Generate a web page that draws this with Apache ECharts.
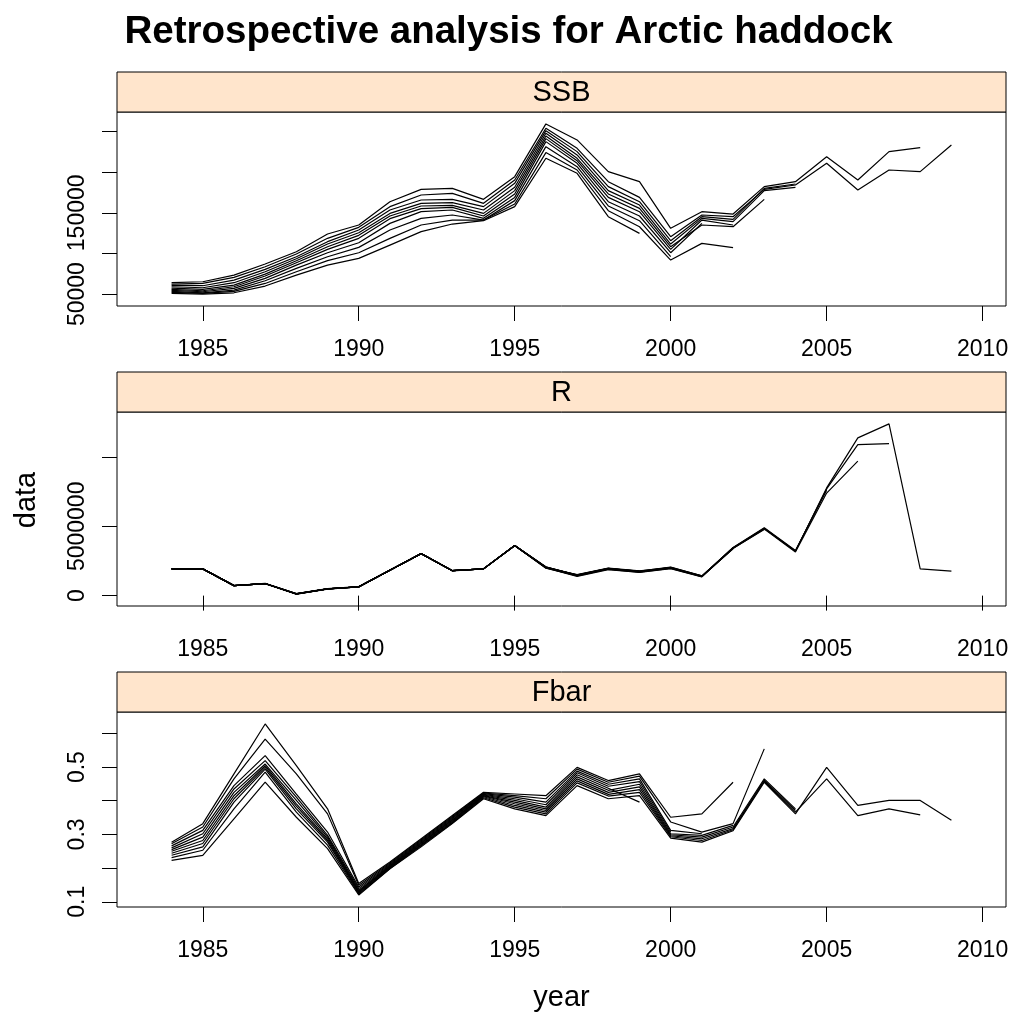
<!DOCTYPE html>
<html>
<head>
<meta charset="utf-8">
<script src="https://cdn.jsdelivr.net/npm/echarts@6/dist/echarts.min.js"></script>
<style>
  html, body { margin: 0; padding: 0; background: #fff; }
  #main { width: 1017px; height: 1027px; }
</style>
</head>
<body>
<div id="main"></div>
<script>
// years of the assessment; each run below starts in 1984 and stops at its own terminal year
const years = [1984, 1985, 1986, 1987, 1988, 1989, 1990, 1991, 1992, 1993, 1994, 1995, 1996,
  1997, 1998, 1999, 2000, 2001, 2002, 2003, 2004, 2005, 2006, 2007, 2008, 2009];
const tickYears = [1985, 1990, 1995, 2000, 2005, 2010];

// SSB (tonnes), one array per retrospective run
const ssbA = [62300, 63100, 70500, 83700, 99300, 118600, 132100, 157600, 171900, 174000, 161700, 190400, 254000,
  229400, 188300, 169000, 120600, 147300, 145200, 178900, 184200, 210900, 178100, 202700, 200700, 233500];
const ssbB = [64000, 65200, 73400, 87000, 102100, 123900, 135000, 163700, 178900, 180100, 166600, 194500, 259400,
  239700, 200700, 188300, 130900, 151400, 148500, 182200, 188300, 219100, 190400, 225300, 230200];
const ssbC = [60700, 60300, 67200, 80400, 96000, 114500, 128800, 153500, 165800, 166600, 157600, 186300, 251100,
  225300, 182200, 163700, 115700, 145200, 142000, 180100, 185500];
const ssbD = [59000, 57800, 64000, 77500, 93500, 111600, 125500, 149300, 161700, 162500, 153500, 181400, 247900,
  221200, 177300, 159600, 111600, 143200, 139100, 177300, 181400];
const ssbE = [57400, 55700, 61100, 74600, 91100, 108300, 122300, 146100, 158400, 159200, 149300, 177300, 244600,
  217100, 173200, 155500, 108300, 135000, 132900, 166600];
const ssbF = [55700, 54100, 59000, 72200, 88600, 105000, 118600, 142800, 155100, 156700, 146100, 173200, 241300,
  214200, 169000, 151400, 105000, 141100, 135000];
const ssbG = [52100, 50800, 53300, 63100, 77500, 91100, 100900, 118600, 135000, 141100, 141100, 160800, 224100,
  202700, 152600, 132900, 91900, 112400, 107100];
const ssbH = [54500, 52900, 57000, 69300, 85700, 100900, 113200, 137000, 151400, 153500, 143200, 169000, 237600,
  210900, 163700, 146100, 100900, 137000];
const ssbI = [53300, 51600, 54900, 66400, 81600, 96000, 107500, 128800, 143200, 147300, 141100, 165000, 231400,
  206800, 158400, 140300, 96000];
const ssbJ = [50800, 50000, 51600, 59900, 73400, 85700, 93900, 110300, 126800, 136200, 140300, 157600, 217100,
  198600, 145200, 124700];

// recruitment (numbers)
const recA = [1930000, 1930000, 720000, 870000, 120000, 480000, 630000, 1830000, 3030000, 1800000, 1930000, 3610000, 2000000,
  1390000, 1880000, 1680000, 1950000, 1350000, 3440000, 4840000, 3200000, 7770000, 11380000, 12390000, 1930000, 1760000];
const recB = [1930000, 1930000, 720000, 870000, 130000, 490000, 640000, 1840000, 3030000, 1800000, 1930000, 3600000, 2020000,
  1420000, 1900000, 1700000, 1970000, 1370000, 3460000, 4860000, 3220000, 7700000, 10900000, 10970000];
const recC = [1930000, 1930000, 720000, 870000, 110000, 470000, 630000, 1830000, 3030000, 1800000, 1930000, 3610000, 1980000,
  1440000, 1920000, 1720000, 2000000, 1380000, 3400000, 4800000, 3150000, 7400000, 9700000];
const recD = [1930000, 1930000, 730000, 880000, 140000, 500000, 650000, 1840000, 3040000, 1810000, 1940000, 3620000, 2040000,
  1460000, 1950000, 1740000, 2020000, 1400000, 3480000, 4900000, 3250000, 7600000];
const recE = [1930000, 1930000, 720000, 870000, 120000, 490000, 640000, 1830000, 3030000, 1800000, 1930000, 3610000, 2060000,
  1480000, 1930000, 1710000, 2040000, 1420000, 3420000, 4780000];
const recF = [1930000, 1930000, 720000, 870000, 130000, 480000, 630000, 1830000, 3020000, 1800000, 1930000, 3600000, 2050000,
  1500000, 1970000, 1730000, 1990000, 1410000, 3450000];
const recG = [1930000, 1930000, 720000, 870000, 110000, 480000, 630000, 1830000, 3030000, 1790000, 1920000, 3610000, 2030000,
  1450000, 1940000, 1760000, 2010000, 1390000, 3380000];
const recH = [1930000, 1930000, 720000, 870000, 140000, 490000, 640000, 1840000, 3040000, 1800000, 1930000, 3620000, 2080000,
  1470000, 1950000, 1770000, 2050000, 1430000];
const recI = [1930000, 1930000, 720000, 870000, 120000, 480000, 630000, 1830000, 3030000, 1800000, 1930000, 3610000, 2010000,
  1520000, 1990000, 1780000, 2030000];
const recJ = [1930000, 1930000, 720000, 870000, 130000, 490000, 640000, 1830000, 3030000, 1810000, 1940000, 3610000, 2040000,
  1490000, 1960000, 1750000];

// mean fishing mortality
const fbarA = [0.223, 0.238, 0.346, 0.455, 0.351, 0.258, 0.120, 0.198, 0.263, 0.332, 0.406, 0.376, 0.356,
  0.445, 0.406, 0.415, 0.289, 0.277, 0.311, 0.455, 0.361, 0.499, 0.386, 0.401, 0.401, 0.342];
const fbarB = [0.231, 0.253, 0.376, 0.485, 0.366, 0.268, 0.123, 0.199, 0.266, 0.334, 0.409, 0.381, 0.361,
  0.453, 0.414, 0.425, 0.293, 0.282, 0.314, 0.458, 0.366, 0.465, 0.356, 0.376, 0.358];
const fbarC = [0.238, 0.263, 0.396, 0.494, 0.376, 0.277, 0.126, 0.201, 0.268, 0.336, 0.412, 0.386, 0.366,
  0.459, 0.419, 0.433, 0.296, 0.287, 0.317, 0.461, 0.371];
const fbarD = [0.244, 0.273, 0.406, 0.499, 0.384, 0.282, 0.129, 0.203, 0.270, 0.339, 0.414, 0.391, 0.371,
  0.465, 0.425, 0.441, 0.299, 0.292, 0.322, 0.465, 0.376];
const fbarE = [0.272, 0.322, 0.465, 0.583, 0.480, 0.361, 0.149, 0.215, 0.284, 0.353, 0.423, 0.415, 0.406,
  0.494, 0.455, 0.473, 0.337, 0.307, 0.332, 0.554];
const fbarF = [0.250, 0.282, 0.415, 0.504, 0.391, 0.287, 0.131, 0.205, 0.273, 0.342, 0.415, 0.396, 0.376,
  0.471, 0.431, 0.449, 0.302, 0.297, 0.327];
const fbarG = [0.277, 0.332, 0.480, 0.628, 0.504, 0.376, 0.154, 0.218, 0.287, 0.356, 0.425, 0.420, 0.415,
  0.499, 0.460, 0.480, 0.351, 0.361, 0.455];
const fbarH = [0.266, 0.312, 0.445, 0.534, 0.420, 0.307, 0.144, 0.212, 0.281, 0.350, 0.421, 0.411, 0.396,
  0.488, 0.449, 0.465, 0.312, 0.302];
const fbarI = [0.260, 0.302, 0.435, 0.519, 0.411, 0.297, 0.139, 0.209, 0.278, 0.347, 0.419, 0.406, 0.388,
  0.483, 0.443, 0.457, 0.307];
const fbarJ = [0.255, 0.292, 0.425, 0.509, 0.401, 0.292, 0.134, 0.207, 0.275, 0.344, 0.417, 0.401, 0.381,
  0.477, 0.437, 0.396];

const ssbTicks = [50000, 100000, 150000, 200000, 250000];
const ssbLabels = [50000, 150000];
const recTicks = [0, 5000000, 10000000];
const recLabels = [0, 5000000];
const fbarTicks = [0.1, 0.2, 0.3, 0.4, 0.5, 0.6];
const fbarLabels = [0.1, 0.3, 0.5];

const FONT = '"Liberation Sans", Arial, sans-serif';
const plotLeft = 117, plotWidth = 889, stripH = 40;

const panels = [
  { name: 'SSB', top: 112, height: 194,
    runs: [ssbA, ssbB, ssbC, ssbD, ssbE, ssbF, ssbG, ssbH, ssbI, ssbJ], ticks: ssbTicks, labels: ssbLabels },
  { name: 'R', top: 412, height: 194,
    runs: [recA, recB, recC, recD, recE, recF, recG, recH, recI, recJ], ticks: recTicks, labels: recLabels },
  { name: 'Fbar', top: 712, height: 195,
    runs: [fbarA, fbarB, fbarC, fbarD, fbarE, fbarF, fbarG, fbarH, fbarI, fbarJ], ticks: fbarTicks, labels: fbarLabels }
];

// lattice pads each axis by 7% of the data range
function padded(lo, hi) {
  const d = (hi - lo) * 0.07;
  return [lo - d, hi + d];
}
const xRange = padded(years[0], years[years.length - 1]);

const grids = [], xAxes = [], yAxes = [], series = [], graphics = [];

panels.forEach((p, i) => {
  const all = p.runs.flat();
  const yRange = padded(Math.min(...all), Math.max(...all));

  grids.push({ left: plotLeft, top: p.top, width: plotWidth, height: p.height,
    show: true, borderColor: '#000', borderWidth: 1, backgroundColor: '#fff' });

  xAxes.push({
    gridIndex: i, type: 'value', min: xRange[0], max: xRange[1],
    axisLine: { show: false },
    splitLine: { show: false },
    axisTick: { show: true, length: 15, customValues: tickYears, lineStyle: { color: '#000', width: 1 } },
    axisLabel: { customValues: tickYears, margin: 32, color: '#000', fontSize: 23, fontFamily: FONT,
      formatter: v => String(v) }
  });

  yAxes.push({
    gridIndex: i, type: 'value', min: yRange[0], max: yRange[1],
    axisLine: { show: false },
    splitLine: { show: false },
    axisTick: { show: true, length: 15, customValues: p.ticks, lineStyle: { color: '#000', width: 1 } },
    axisLabel: { customValues: p.labels, rotate: 90, margin: 28, color: '#000', fontSize: 23, fontFamily: FONT,
      formatter: v => String(v) }
  });

  p.runs.forEach(run => {
    series.push({
      type: 'line', xAxisIndex: i, yAxisIndex: i,
      data: run.map((v, k) => [years[k], v]),
      showSymbol: false, silent: true,
      lineStyle: { color: '#000', width: 1.2 }
    });
  });

  // strip with the panel name
  graphics.push({
    type: 'rect', shape: { x: plotLeft, y: p.top - stripH, width: plotWidth, height: stripH },
    style: { fill: '#ffe5cc', stroke: '#000', lineWidth: 1 }, z: 10
  });
  graphics.push({
    type: 'text', x: plotLeft + plotWidth / 2, y: p.top - stripH / 2 + 1, z: 11,
    style: { text: p.name, fill: '#000', font: '29px ' + FONT, textAlign: 'center', textVerticalAlign: 'middle' }
  });
});

graphics.push({
  type: 'text', x: plotLeft + plotWidth / 2, y: 998,
  style: { text: 'year', fill: '#000', font: '29px ' + FONT, textAlign: 'center', textVerticalAlign: 'middle' }
});
graphics.push({
  type: 'text', x: 27, y: 500, rotation: Math.PI / 2,
  style: { text: 'data', fill: '#000', font: '29px ' + FONT, textAlign: 'center', textVerticalAlign: 'middle' }
});

const chart = echarts.init(document.getElementById('main'), null, { renderer: 'canvas' });
chart.setOption({
  animation: false,
  backgroundColor: '#fff',
  title: {
    text: 'Retrospective analysis for Arctic haddock',
    left: 'center', top: 8,
    textStyle: { color: '#000', fontSize: 38.5, fontWeight: 'bold', fontFamily: FONT }
  },
  grid: grids,
  xAxis: xAxes,
  yAxis: yAxes,
  series: series,
  graphic: graphics
});
</script>
</body>
</html>
